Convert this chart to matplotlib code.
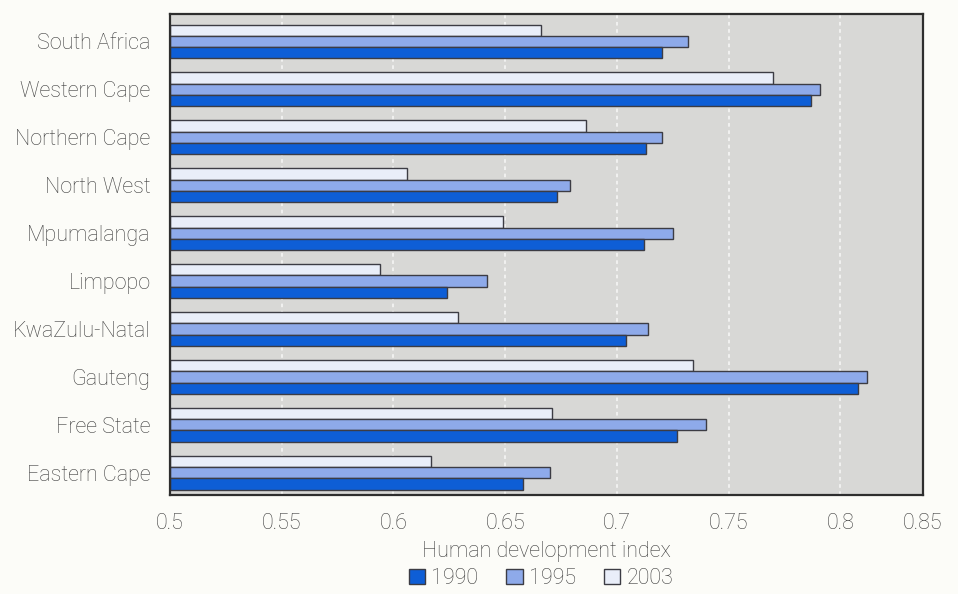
import numpy as np
import matplotlib
matplotlib.use("Agg")
import matplotlib.pyplot as plt

# Provincial HDI values, listed bottom row first
provinces = [
    "Eastern Cape",
    "Free State",
    "Gauteng",
    "KwaZulu-Natal",
    "Limpopo",
    "Mpumalanga",
    "North West",
    "Northern Cape",
    "Western Cape",
    "South Africa",
]
hdi_1990 = [0.658, 0.727, 0.808, 0.704, 0.624, 0.712, 0.673, 0.713, 0.787, 0.720]
hdi_1995 = [0.670, 0.740, 0.812, 0.714, 0.642, 0.725, 0.679, 0.720, 0.791, 0.732]
hdi_2003 = [0.617, 0.671, 0.734, 0.629, 0.594, 0.649, 0.606, 0.686, 0.770, 0.666]

grid_ticks = [0.5, 0.55, 0.6, 0.65, 0.7, 0.75, 0.8]
tick_labels = ["0.5", "0.55", "0.6", "0.65", "0.7", "0.75", "0.8", "0.85"]
X_MIN, X_MAX = 0.5, 0.837

plt.rcParams["font.family"] = ["Roboto", "DejaVu Sans"]
plt.rcParams["font.weight"] = "light"
plt.rcParams["axes.labelweight"] = "light"
TEXT = "#3e3e3e"
EDGE = "#3c3c44"

fig = plt.figure(figsize=(9.58, 5.94), dpi=100, facecolor="#fcfcf8")
ax = fig.add_axes([0.1775, 0.167, 0.786, 0.81])
ax.set_facecolor("#d8d8d6")

y = np.arange(len(provinces))
h = 0.235
bar_kw = dict(height=h, left=X_MIN, edgecolor=EDGE, linewidth=1.0)
ax.barh(y + h, np.array(hdi_2003) - X_MIN, color="#e9eef9", label="2003", **bar_kw)
ax.barh(y, np.array(hdi_1995) - X_MIN, color="#8eaaea", label="1995", **bar_kw)
ax.barh(y - h, np.array(hdi_1990) - X_MIN, color="#0e5ed6", label="1990", **bar_kw)

ax.set_xlim(X_MIN, X_MAX)
ax.set_ylim(-0.46, 9.58)

for gx in grid_ticks[1:]:
    ax.axvline(gx, color="white", linestyle=(0, (2, 2)), linewidth=1.3, alpha=0.7, zorder=0.5)

ax.set_xticks(grid_ticks + [X_MAX])
ax.set_xticklabels(tick_labels)
ax.set_yticks(y)
ax.set_yticklabels(provinces)
ax.tick_params(axis="both", length=0, labelsize=15.5, labelcolor=TEXT)
ax.tick_params(axis="y", pad=14)
ax.tick_params(axis="x", pad=13)

for s in ax.spines.values():
    s.set_color("#2e2e2e")
    s.set_linewidth(1.6)

ax.set_xlabel("Human development index", fontsize=15.5, color=TEXT, labelpad=5)

handles, labels = ax.get_legend_handles_labels()
order = [2, 1, 0]
fig.legend(
    [handles[i] for i in order],
    [labels[i] for i in order],
    loc="center",
    bbox_to_anchor=(0.565, 0.026),
    ncol=3,
    frameon=False,
    fontsize=15.5,
    labelcolor=TEXT,
    handlelength=0.75,
    handleheight=0.75,
    handletextpad=0.3,
    columnspacing=1.3,
)

fig.savefig("out.png", dpi=100, facecolor=fig.get_facecolor())
